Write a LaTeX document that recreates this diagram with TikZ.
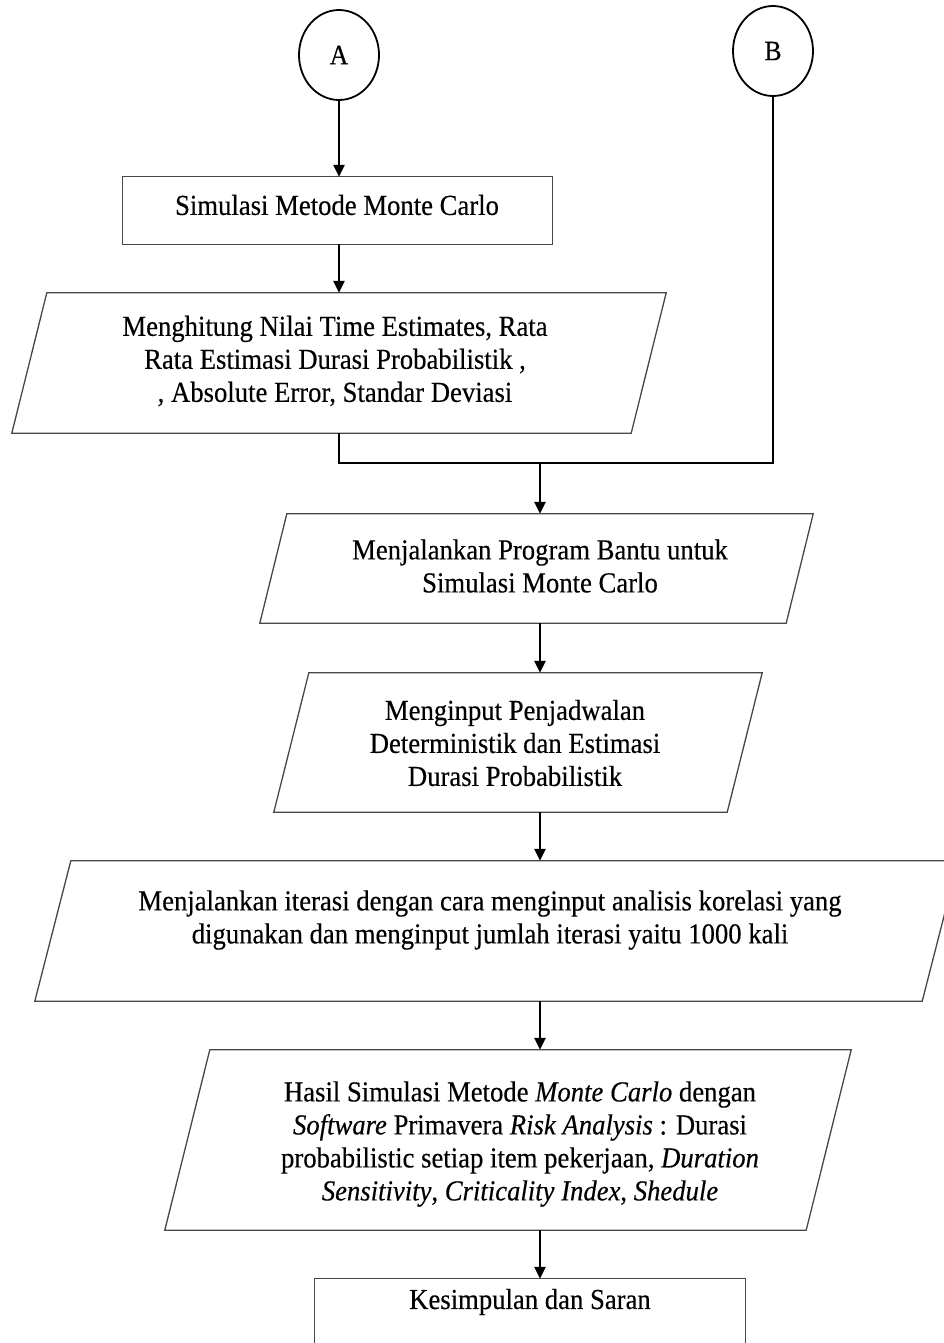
\documentclass[tikz,border=0pt]{standalone}
\usepackage{fontspec}
\setmainfont{Liberation Serif}[FakeStretch=0.92, FakeBold=0.35]
\usetikzlibrary{shapes.geometric,arrows.meta,calc}

\tikzset{
  frame/.style={draw=none, inner sep=0pt},
  outline/.style={draw=black!72, line width=1.3pt, line join=miter},
  label/.style={font=\fontsize{29}{33}\selectfont, align=center, inner sep=0pt},
  connector/.style={draw=black, line width=1.8pt, ellipse, minimum width=80pt, minimum height=90pt,
                    font=\fontsize{28}{30}\selectfont, inner sep=0pt},
  flow/.style={draw=black, line width=2.4pt},
  arr/.style={flow, -{Triangle[length=12pt, width=11pt]}}
}

% parallelogram drawn over the bounding rectangle of a frame node
\newcommand{\slantbox}[2]{%
  \draw[outline] ($(#1.north west)+(#2,0)$) -- (#1.north east)
     -- ($(#1.south east)+(-#2,0)$) -- (#1.south west) -- cycle;}

\begin{document}
\begin{tikzpicture}[x=1pt, y=-1pt]
\useasboundingbox (0,0) rectangle (944,1343);
\clip (0,0) rectangle (944,1343);

% off-page connectors
\node[connector] (A) at (339,55) {A};
\node[connector] (B) at (773,51) {B};

% process box
\node[frame, minimum width=429pt, minimum height=67pt] (s1) at (337.5,210.5) {};
\draw[outline] (s1.north west) rectangle (s1.south east);
\node[label] (t1) at (337,205) {Simulasi Metode Monte Carlo};

% calculation step
\node[frame, minimum width=654pt, minimum height=140pt] (p2) at (339,363) {};
\slantbox{p2}{35}
\node[label] (t2) at (335,361) {Menghitung Nilai Time Estimates, Rata\\
  Rata Estimasi Durasi Probabilistik ,\\ , Absolute Error, Standar Deviasi};

% software run
\node[frame, minimum width=553pt, minimum height=109pt] (p3) at (536.5,568.5) {};
\slantbox{p3}{27}
\node[label] (t3) at (540,566) {Menjalankan Program Bantu untuk\\ Simulasi Monte Carlo};

% input data
\node[frame, minimum width=488pt, minimum height=139pt] (p4) at (518,742.5) {};
\slantbox{p4}{35}
\node[label] (t4) at (515,743) {Menginput Penjadwalan\\ Deterministik dan Estimasi\\ Durasi Probabilistik};

% iterations
\node[frame, minimum width=923pt, minimum height=140pt] (p5) at (496.5,931) {};
\slantbox{p5}{36}
\node[label] (t5) at (490,920) {Menjalankan iterasi dengan cara menginput analisis korelasi yang\\
  digunakan dan menginput jumlah iterasi yaitu 1000 kali};

% simulation results
\node[frame, minimum width=686pt, minimum height=180pt] (p6) at (508,1140) {};
\slantbox{p6}{45}
\node[label] (t6) at (520,1144) {Hasil Simulasi Metode \textit{Monte Carlo} dengan\\
  \textit{Software} Primavera \textit{Risk Analysis} : Durasi\\
  probabilistic setiap item pekerjaan, \textit{Duration}\\
  \textit{Sensitivity}, \textit{Criticality Index}, \textit{Shedule}};

% conclusion
\node[frame, minimum width=430pt, minimum height=100pt] (s7) at (530,1329) {};
\draw[outline] (s7.north west) rectangle (s7.south east);
\node[label] (t7) at (530,1302) {Kesimpulan dan Saran};

% flow lines
\coordinate (m) at (540,463);
\draw[arr] (A.south) -- (A.south |- s1.north);
\draw[arr] (A.south |- s1.south) -- (A.south |- p2.north);
\draw[flow] (A.south |- p2.south) |- (B.south |- m) -- (B.south);
\draw[arr] (m) -- (m |- p3.north);
\draw[arr] (m |- p3.south) -- (m |- p4.north);
\draw[arr] (m |- p4.south) -- (m |- p5.north);
\draw[arr] (m |- p5.south) -- (m |- p6.north);
\draw[arr] (m |- p6.south) -- (m |- s7.north);
\end{tikzpicture}
\end{document}
